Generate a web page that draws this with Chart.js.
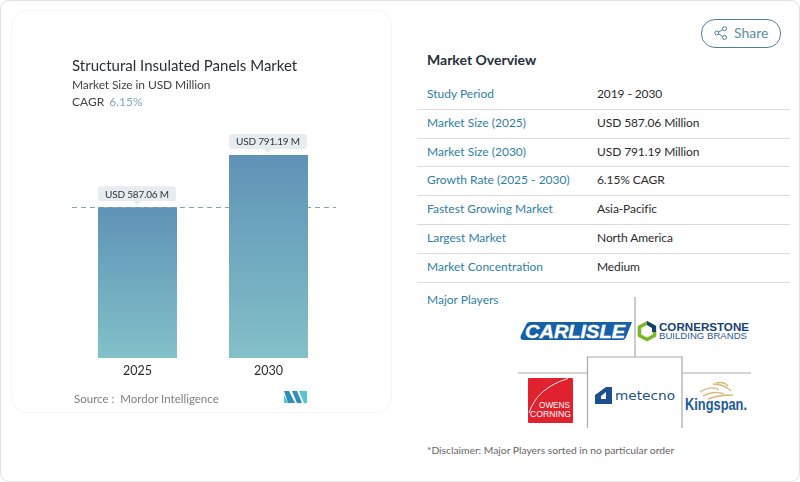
<!DOCTYPE html>
<html>
<head>
<meta charset="utf-8">
<script src="https://cdn.jsdelivr.net/npm/chart.js@4"></script>
<style>
  html, body { margin: 0; padding: 0; background: #fff; }
  body { width: 800px; height: 482px; position: relative; overflow: hidden; font-family: Lato, sans-serif; }
  .abs { position: absolute; white-space: nowrap; }
  #frame { left: 0; top: 0; width: 798px; height: 480px; border: 1px solid #e2e2e2; border-radius: 9px; }
  #card { left: 11px; top: 10px; width: 379px; height: 401px; border: 1px solid #f5f5f5; border-radius: 16px; }
  #chart { position: absolute; left: 0; top: 0; }
  .title { left: 72px; top: 55px; font-size: 15px; line-height: 20px; color: #2b2f33; }
  .sub { left: 72px; top: 77px; font-size: 12px; line-height: 16px; letter-spacing: -0.1px; color: #444; }
  .cagr { left: 72px; top: 94px; font-size: 12px; line-height: 16px; color: #444; }
  .cagr span { color: #7fa6c2; margin-left: 2px; }
  .source { left: 74px; top: 391px; font-size: 11.5px; line-height: 15px; color: #808080; }
  #share { left: 701px; top: 19px; width: 78px; height: 27px; border: 1px solid #4f7f99; border-radius: 14px; }
  #share span { position: absolute; left: 32px; top: 4px; font-size: 14px; line-height: 18px; color: #5f8ea8; }
  #share svg { position: absolute; left: 12px; top: 6px; }
  .heading { left: 427px; top: 51px; font-size: 14px; line-height: 18px; font-weight: 700; color: #25303b; }
  .rowkey { left: 427px; font-size: 12px; line-height: 16px; color: #2f80a8; }
  .rowval { left: 597px; font-size: 12px; line-height: 16px; letter-spacing: -0.1px; color: #2c2c2c; }
  .rule { left: 417px; width: 373px; height: 1px; background: #d8dadb; }
  .players { left: 427px; top: 292px; font-size: 12px; line-height: 16px; color: #2f80a8; }
  .note { left: 427px; top: 443px; font-size: 10.3px; line-height: 14px; color: #666; }
  #logos { position: absolute; left: 500px; top: 285px; }
</style>
</head>
<body>
<div class="abs" id="frame"></div>
<div class="abs" id="card"></div>
<canvas id="chart" width="400" height="420" style="width:400px;height:420px"></canvas>

<div class="abs title">Structural Insulated Panels Market</div>
<div class="abs sub">Market Size in USD Million</div>
<div class="abs cagr">CAGR <span>6.15%</span></div>
<div class="abs source">Source :&nbsp; Mordor Intelligence</div>
<svg class="abs" style="left:284px;top:390px" width="24" height="14" viewBox="0 0 24 14">
  <polygon points="0,1 5,1 11,13 4,13" fill="#2b8fbf"/>
  <polygon points="0,5 0,13 4,13" fill="#56c5d0"/>
  <polygon points="8,1 13,1 18,13 13,13" fill="#2b8fbf"/>
  <polygon points="15,1 23,1 23,13 20,13" fill="#56c5d0"/>
</svg>

<div class="abs" id="share">
  <svg width="14" height="14" viewBox="0 0 14 14" fill="none" stroke="#4f7f99" stroke-width="1">
    <circle cx="10.5" cy="2.6" r="2"/><circle cx="2.8" cy="7" r="2"/><circle cx="10.5" cy="11.4" r="2"/>
    <line x1="4.6" y1="6" x2="8.7" y2="3.6"/><line x1="4.6" y1="8" x2="8.7" y2="10.4"/>
  </svg>
  <span>Share</span>
</div>
<div class="abs heading">Market Overview</div>
<div id="rows"></div>
<div class="abs players">Major Players</div>
<div class="abs note">*Disclaimer: Major Players sorted in no particular order</div>

<svg id="logos" width="270" height="150" viewBox="0 0 270 150">
  <g stroke="#a9a9a9" stroke-width="1.2" fill="none">
    <line x1="135" y1="12" x2="135" y2="72"/>
    <polyline points="87.5,143 87.5,72 182,72 182,143"/>
    <line x1="18" y1="88" x2="87.5" y2="88"/>
    <line x1="182" y1="88" x2="251" y2="88"/>
  </g>
  <!-- Carlisle -->
  <path d="M30,37 H132 L126,52 Q125,55 122,55 H24 Q19,55 21,50 L26,40 Q27,37 30,37 Z" fill="#1560a8"/>
  <text x="25" y="52.5" font-family="'Liberation Sans'" font-weight="700" font-style="italic" font-size="18.5" textLength="100" lengthAdjust="spacingAndGlyphs" fill="#fff" stroke="#fff" stroke-width="0.4">CARLISLE</text>
  <!-- Cornerstone -->
  <polygon points="147,38 154.5,42 154.5,50.5 147,54.5 139.5,50.5 139.5,42" fill="none" stroke="#7ab829" stroke-width="3.6"/>
  <polygon points="147,36 156,41 156,47 152,47 152,43 147,40" fill="#15406f"/>
  <text x="159" y="46" font-family="'Liberation Sans'" font-weight="700" font-size="11" textLength="90" lengthAdjust="spacingAndGlyphs" fill="#173f7a">CORNERSTONE</text>
  <text x="159" y="54" font-family="'Liberation Sans'" font-size="8.8" textLength="88" lengthAdjust="spacingAndGlyphs" fill="#2a5a94">BUILDING BRANDS</text>
  <!-- Owens Corning -->
  <rect x="28" y="93" width="45" height="45" rx="1" fill="#e0222e"/>
  <path d="M29,128 Q37,103 68,93.5" fill="none" stroke="#fff" stroke-width="0.9"/>
  <text x="39" y="123" font-family="'Liberation Sans'" font-size="8.5" textLength="31" lengthAdjust="spacingAndGlyphs" fill="#fff">OWENS</text>
  <text x="30" y="132" font-family="'Liberation Sans'" font-size="8.5" textLength="41" lengthAdjust="spacingAndGlyphs" fill="#fff">CORNING</text>
  <!-- Metecno -->
  <path d="M95,119 V110 L106,102 H112 V119 Z M101,114 H106 V107 L101,111 Z" fill="#1b4f8f" fill-rule="evenodd"/>
  <text x="115" y="115" font-family="'DejaVu Sans'" font-size="12.5" textLength="60" lengthAdjust="spacingAndGlyphs" fill="#1b4f8f">metecno</text>
  <!-- Kingspan -->
  <g fill="none" stroke="#d9b77c" stroke-width="1.4">
    <path d="M200,107 Q212,100 219,105"/>
    <path d="M203,111 Q214,105 224,109"/>
    <path d="M208,114 Q218,110 233,110"/>
    <path d="M213,99 Q224,99 231,106"/>
    <path d="M216,98 Q224,96 228,101"/>
  </g>
  <text x="185" y="125" font-family="'Liberation Sans'" font-weight="700" font-size="16.5" textLength="62" lengthAdjust="spacingAndGlyphs" fill="#1d5a9a">Kingspan.</text>
</svg>

<script>
// Chart data
const categories = ['2025', '2030'];
const marketSize = [587.06, 791.19];
const valueLabels = ['USD 587.06 M', 'USD 791.19 M'];

// Overview table
const overviewKeys = ['Study Period', 'Market Size (2025)', 'Market Size (2030)', 'Growth Rate (2025 - 2030)', 'Fastest Growing Market', 'Largest Market', 'Market Concentration'];
const overviewValues = ['2019 - 2030', 'USD 587.06 Million', 'USD 791.19 Million', '6.15% CAGR', 'Asia-Pacific', 'North America', 'Medium'];
const rowCentres = [94, 123, 152, 180, 209, 238, 267];
const ruleTops = [109, 138, 166, 195, 224, 253, 282];

const rows = document.getElementById('rows');
overviewKeys.forEach((key, i) => {
    rows.insertAdjacentHTML('beforeend',
        `<div class="abs rowkey" style="top:${rowCentres[i] - 8}px">${key}</div>` +
        `<div class="abs rowval" style="top:${rowCentres[i] - 8}px">${overviewValues[i]}</div>` +
        `<div class="abs rule" style="top:${ruleTops[i]}px"></div>`);
});

// Dashed reference line at the 2025 value, sits behind the bars
const referenceLine = {
    id: 'referenceLine',
    beforeDatasetsDraw(chart) {
        const y = Math.round(chart.scales.y.getPixelForValue(marketSize[0])) + 0.5;
        const ctx = chart.ctx;
        ctx.save();
        ctx.strokeStyle = '#86a4ab';
        ctx.lineWidth = 1;
        ctx.setLineDash([5, 4]);
        ctx.beginPath();
        ctx.moveTo(72, y);
        ctx.lineTo(336, y);
        ctx.stroke();
        ctx.restore();
    }
};

// Value pills above each bar
const valuePills = {
    id: 'valuePills',
    afterDatasetsDraw(chart) {
        const ctx = chart.ctx;
        chart.getDatasetMeta(0).data.forEach((bar, i) => {
            const cx = bar.x - 0.5;
            const bottom = bar.y - 6;
            ctx.save();
            ctx.fillStyle = '#e6ecef';
            ctx.beginPath();
            ctx.roundRect(cx - 39, bottom - 15, 78, 15, 3);
            ctx.fill();
            ctx.beginPath();
            ctx.moveTo(cx - 4, bottom);
            ctx.lineTo(cx, bottom + 4);
            ctx.lineTo(cx + 4, bottom);
            ctx.fill();
            ctx.fillStyle = '#30363b';
            ctx.font = '10px Lato, sans-serif';
            ctx.letterSpacing = '-0.2px';
            ctx.textAlign = 'center';
            ctx.textBaseline = 'middle';
            ctx.fillText(valueLabels[i], cx, bottom - 7);
            ctx.restore();
        });
    }
};

new Chart(document.getElementById('chart'), {
    type: 'bar',
    data: {
        labels: categories,
        datasets: [{
            data: marketSize,
            backgroundColor(context) {
                const { chart, dataIndex } = context;
                if (!chart.chartArea) return '#6fa5bd';
                const y = chart.scales.y;
                const g = chart.ctx.createLinearGradient(0, y.getPixelForValue(marketSize[dataIndex]), 0, y.getPixelForValue(0));
                g.addColorStop(0, '#5f93b6');
                g.addColorStop(1, '#81c1c8');
                return g;
            },
            borderWidth: 0,
            barPercentage: 0.603,
            categoryPercentage: 1
        }]
    },
    options: {
        responsive: false,
        animation: false,
        layout: { padding: { left: 72, right: 66, top: 155, bottom: 34 } },
        plugins: { legend: { display: false }, tooltip: { enabled: false } },
        scales: {
            x: {
                grid: { display: false, drawTicks: false },
                border: { display: false },
                afterFit(scale) { scale.height = 28; },
                ticks: { color: '#2b2b2b', font: { family: 'Lato', size: 12.5 }, padding: 5 }
            },
            y: { display: false, min: 0, max: 791.19 }
        }
    },
    plugins: [referenceLine, valuePills]
});
</script>
</body>
</html>
